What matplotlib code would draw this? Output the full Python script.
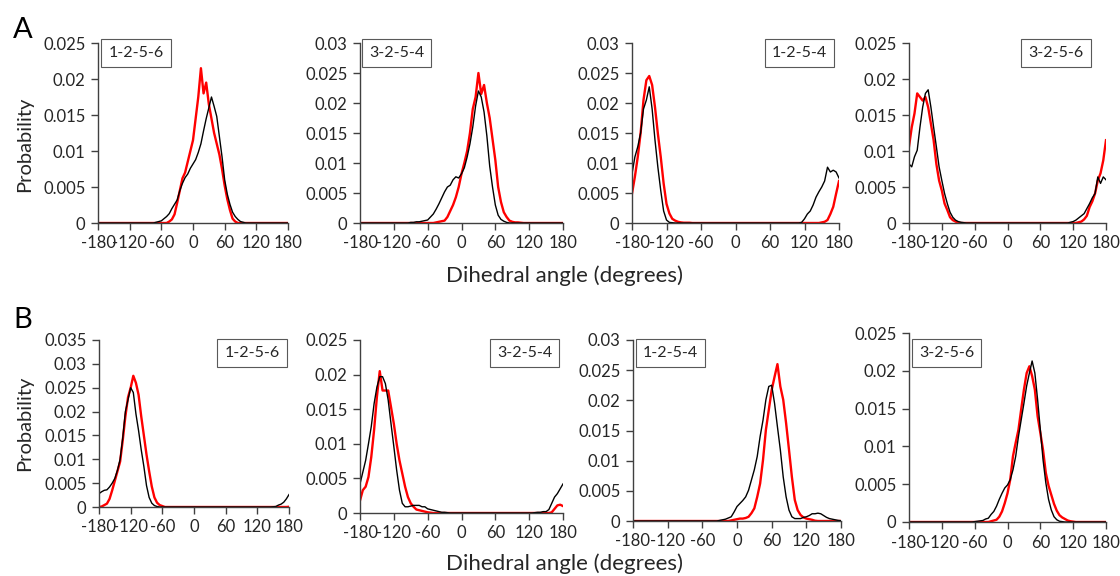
import numpy as np
import matplotlib
matplotlib.use("Agg")
import matplotlib.pyplot as plt
from matplotlib.ticker import FuncFormatter

plt.rcParams['font.family'] = ['Lato', 'DejaVu Sans']
plt.rcParams['axes.unicode_minus'] = False

# dihedral angle grid (degrees), 5 degree bins
angles = np.arange(-180, 181, 5)

# probabilities in units of 1e-3, one value per angle in the grid
# row A
a1_black = [0, 0, 0, 0, 0, 0, 0, 0, 0, 0,
            0, 0, 0, 0, 0, 0, 0, 0, 0, 0,
            0, 0, 0.1, 0.2, 0.3, 0.6, 0.9, 1.3, 2.0, 2.6,
            3.2, 4.5, 5.5, 6.3, 6.8, 7.6, 8.2, 8.8, 9.8, 11.0,
            12.8, 14.5, 16.0, 17.5, 16.2, 14.8, 12.0, 9.2, 6.0, 4.0,
            2.6, 1.5, 0.9, 0.5, 0.2, 0.1, 0, 0, 0, 0,
            0, 0, 0, 0, 0, 0, 0, 0, 0, 0,
            0, 0, 0]
a1_red = [0, 0, 0, 0, 0, 0, 0, 0, 0, 0,
          0, 0, 0, 0, 0, 0, 0, 0, 0, 0,
          0, 0, 0, 0, 0, 0, 0, 0.2, 0.5, 1.2,
          2.8, 4.5, 6.2, 7.0, 8.5, 10.0, 11.5, 14.5, 17.5, 21.5,
          18.0, 19.5, 16.5, 14.5, 12.5, 11.0, 9.5, 7.5, 5.2, 3.3,
          1.8, 0.6, 0.2, 0, 0, 0, 0, 0, 0, 0,
          0, 0, 0, 0, 0, 0, 0, 0, 0, 0,
          0, 0, 0]
a2_black = [0, 0, 0, 0, 0, 0, 0, 0, 0, 0,
            0, 0, 0, 0, 0, 0, 0, 0, 0.1, 0.1,
            0.2, 0.2, 0.3, 0.4, 0.5, 1.0, 1.5, 2.3, 3.2, 4.2,
            5.2, 6.0, 6.3, 7.2, 7.7, 7.5, 8.2, 9.2, 11.0, 13.2,
            16.0, 19.5, 22.0, 21.0, 18.5, 14.5, 9.5, 6.0, 3.0, 1.3,
            0.6, 0.3, 0.1, 0, 0, 0, 0, 0, 0, 0,
            0, 0, 0, 0, 0, 0, 0, 0, 0, 0,
            0, 0, 0]
a2_red = [0, 0, 0, 0, 0, 0, 0, 0, 0, 0,
          0, 0, 0, 0, 0, 0, 0, 0, 0, 0,
          0, 0, 0, 0, 0, 0, 0, 0.1, 0.2, 0.3,
          0.4, 1.0, 2.0, 3.0, 4.3, 6.0, 8.2, 10.0, 12.0, 15.0,
          19.0, 21.0, 25.0, 21.5, 23.0, 20.0, 17.5, 14.0, 10.5, 6.0,
          3.5, 1.8, 1.0, 0.4, 0.2, 0.1, 0.1, 0.05, 0, 0,
          0, 0, 0, 0, 0, 0, 0, 0, 0, 0,
          0, 0, 0]
a3_black = [8.2, 11.0, 12.7, 15.0, 19.0, 20.5, 22.7, 19.0, 13.8, 9.3,
            5.4, 2.0, 0.5, 0.1, 0.05, 0, 0, 0, 0, 0,
            0, 0, 0, 0, 0, 0, 0, 0, 0, 0,
            0, 0, 0, 0, 0, 0, 0, 0, 0, 0,
            0, 0, 0, 0, 0, 0, 0, 0, 0, 0,
            0, 0, 0, 0, 0, 0, 0, 0, 0, 0.1,
            0.7, 1.5, 2.0, 3.0, 4.3, 5.2, 6.0, 7.0, 9.3, 8.5,
            8.8, 8.5, 7.5]
a3_red = [4.9, 7.7, 11.0, 15.0, 20.5, 23.8, 24.5, 23.0, 19.3, 14.9,
          11.0, 6.6, 3.2, 1.6, 0.7, 0.4, 0.2, 0.1, 0.05, 0.05,
          0.05, 0, 0, 0, 0, 0, 0, 0, 0, 0,
          0, 0, 0, 0, 0, 0, 0, 0, 0, 0,
          0, 0, 0, 0, 0, 0, 0, 0, 0, 0,
          0, 0, 0, 0, 0, 0, 0, 0, 0, 0,
          0, 0, 0, 0, 0, 0, 0.1, 0.2, 0.5, 1.5,
          2.7, 4.9, 7.0]
a4_black = [8.2, 7.8, 9.2, 10.1, 13.3, 16.1, 18.0, 18.5, 16.1, 13.3,
            10.6, 7.8, 5.9, 4.1, 2.7, 1.5, 0.8, 0.4, 0.2, 0.1,
            0.05, 0, 0, 0, 0, 0, 0, 0, 0, 0,
            0, 0, 0, 0, 0, 0, 0, 0, 0, 0,
            0, 0, 0, 0, 0, 0, 0, 0, 0, 0,
            0, 0, 0, 0, 0, 0, 0, 0, 0, 0.1,
            0.2, 0.4, 0.7, 1.0, 1.3, 2.0, 2.7, 3.5, 4.1, 6.4,
            5.5, 6.4, 6.0]
a4_red = [10.6, 13.3, 15.2, 18.0, 17.5, 17.0, 17.5, 16.1, 13.8, 11.5,
          8.2, 5.9, 4.5, 2.7, 1.8, 0.8, 0.4, 0.2, 0.05, 0,
          0, 0, 0, 0, 0, 0, 0, 0, 0, 0,
          0, 0, 0, 0, 0, 0, 0, 0, 0, 0,
          0, 0, 0, 0, 0, 0, 0, 0, 0, 0,
          0, 0, 0, 0, 0, 0, 0, 0, 0, 0,
          0, 0, 0.1, 0.2, 0.5, 1.0, 2.2, 3.0, 4.1, 5.9,
          6.9, 8.7, 11.5]
# row B
b1_black = [2.8, 3.2, 3.5, 3.6, 4.2, 5.0, 6.0, 7.7, 10.0, 14.5,
            20.0, 22.5, 25.0, 24.0, 19.5, 16.0, 12.0, 8.5, 4.5, 2.0,
            0.8, 0.3, 0.1, 0, 0, 0, 0, 0, 0, 0,
            0, 0, 0, 0, 0, 0, 0, 0, 0, 0,
            0, 0, 0, 0, 0, 0, 0, 0, 0, 0,
            0, 0, 0, 0, 0, 0, 0, 0, 0, 0,
            0, 0, 0, 0, 0, 0, 0.05, 0.1, 0.4, 0.6,
            1.0, 1.7, 2.6]
b1_red = [0, 0.1, 0.4, 0.7, 1.7, 3.5, 5.5, 7.5, 9.5, 14.0,
          19.0, 23.0, 25.0, 27.5, 26.0, 23.5, 19.0, 15.0, 11.0, 7.5,
          4.3, 2.0, 0.9, 0.4, 0.2, 0, 0, 0, 0, 0,
          0, 0, 0, 0, 0, 0, 0, 0, 0, 0,
          0, 0, 0, 0, 0, 0, 0, 0, 0, 0,
          0, 0, 0, 0, 0, 0, 0, 0, 0, 0,
          0, 0, 0, 0, 0, 0, 0, 0, 0, 0,
          0, 0, 0.05]
b2_black = [4.2, 5.9, 7.6, 10.0, 12.5, 15.8, 18.2, 19.7, 19.7, 18.7,
            16.3, 12.9, 9.6, 6.2, 3.3, 1.4, 0.9, 0.9, 1.0, 1.1,
            1.1, 1.1, 0.9, 0.9, 0.6, 0.5, 0.4, 0.3, 0.2, 0.1,
            0.1, 0.05, 0, 0, 0, 0, 0, 0, 0, 0,
            0, 0, 0, 0, 0, 0, 0, 0, 0, 0,
            0, 0, 0, 0, 0, 0, 0, 0, 0, 0,
            0, 0, 0.05, 0.1, 0.1, 0.2, 0.2, 0.5, 1.4, 2.3,
            2.8, 3.5, 4.2]
b2_red = [1.8, 3.3, 3.8, 5.2, 8.1, 12.0, 16.8, 20.5, 17.7, 17.7,
          17.7, 15.3, 12.9, 10.0, 7.6, 5.7, 3.8, 2.3, 1.4, 0.9,
          0.5, 0.4, 0.3, 0.2, 0.1, 0.05, 0, 0, 0, 0,
          0, 0, 0, 0, 0, 0, 0, 0, 0, 0,
          0, 0, 0, 0, 0, 0, 0, 0, 0, 0,
          0, 0, 0, 0, 0, 0, 0, 0, 0, 0,
          0, 0, 0, 0, 0, 0, 0, 0, 0.1, 0.6,
          1.1, 1.2, 1.0]
b3_black = [0, 0, 0, 0, 0, 0, 0, 0, 0, 0,
            0, 0, 0, 0, 0, 0, 0, 0, 0, 0,
            0, 0, 0, 0, 0, 0, 0, 0, 0, 0,
            0.1, 0.2, 0.3, 0.5, 0.7, 1.5, 2.4, 2.9, 3.4, 4.0,
            5.1, 6.8, 8.5, 10.7, 14.0, 16.7, 20.1, 22.3, 22.5, 19.5,
            15.6, 11.8, 7.3, 4.0, 1.8, 0.7, 0.4, 0.4, 0.4, 0.6,
            0.7, 0.9, 1.2, 1.2, 1.3, 1.2, 0.9, 0.6, 0.4, 0.3,
            0.2, 0.1, 0.05]
b3_red = [0, 0, 0, 0, 0, 0, 0, 0, 0, 0,
          0, 0, 0, 0, 0, 0, 0, 0, 0, 0,
          0, 0, 0, 0, 0, 0, 0, 0, 0, 0,
          0, 0, 0, 0, 0.1, 0.2, 0.3, 0.4, 0.4, 0.5,
          0.7, 1.3, 2.1, 4.0, 6.2, 10.1, 15.1, 18.4, 21.7, 23.9,
          26.0, 22.3, 20.1, 16.2, 11.8, 7.3, 3.5, 1.8, 1.0, 0.6,
          0.4, 0.3, 0.2, 0.05, 0, 0, 0, 0, 0, 0,
          0, 0, 0]
b4_black = [0, 0, 0, 0, 0, 0, 0, 0, 0, 0,
            0, 0, 0, 0, 0, 0, 0, 0, 0, 0,
            0, 0, 0, 0, 0.05, 0.1, 0.15, 0.2, 0.4, 0.5,
            1.0, 1.4, 2.1, 3.0, 3.8, 4.5, 4.9, 5.6, 6.9, 8.7,
            11.3, 13.5, 15.7, 18.0, 19.7, 21.3, 19.7, 16.2, 12.2, 8.2,
            5.2, 3.0, 1.6, 0.7, 0.3, 0.1, 0.05, 0, 0, 0,
            0, 0, 0, 0, 0, 0, 0, 0, 0, 0,
            0, 0, 0]
b4_red = [0, 0, 0, 0, 0, 0, 0, 0, 0, 0,
          0, 0, 0, 0, 0, 0, 0, 0, 0, 0,
          0, 0, 0, 0, 0, 0, 0, 0, 0, 0,
          0.1, 0.2, 0.3, 0.7, 1.4, 2.5, 3.8, 5.6, 8.7, 10.5,
          12.2, 14.9, 17.5, 19.7, 20.6, 19.3, 17.5, 14.0, 11.8, 9.5,
          6.5, 4.8, 3.6, 2.4, 1.5, 0.9, 0.6, 0.4, 0.2, 0.1,
          0.05, 0, 0, 0, 0, 0, 0, 0, 0, 0,
          0, 0, 0]

labels = ['1-2-5-6', '3-2-5-4', '1-2-5-4', '3-2-5-6',
          '1-2-5-6', '3-2-5-4', '1-2-5-4', '3-2-5-6']
black_series = [a1_black, a2_black, a3_black, a4_black,
                b1_black, b2_black, b3_black, b4_black]
red_series = [a1_red, a2_red, a3_red, a4_red,
              b1_red, b2_red, b3_red, b4_red]
ymax = [0.025, 0.03, 0.03, 0.025, 0.035, 0.025, 0.03, 0.025]

# axes boxes in pixels: left, top, right, bottom
boxes = [(98, 43, 288, 223), (360, 43, 563, 223), (632, 43, 839, 223), (909, 43, 1106, 223),
         (99, 340, 289, 507), (360, 340, 563, 513), (633, 340, 841, 521), (909, 333, 1106, 522)]
# label box centre in axes fraction
label_pos = [(0.2, 0.944), (0.18, 0.944), (0.81, 0.944), (0.746, 0.944),
             (0.805, 0.922), (0.81, 0.925), (0.18, 0.928), (0.19, 0.894)]

W, H = 1120, 576
fig = plt.figure(figsize=(W / 100, H / 100), dpi=100)
axc = '#404040'

for i in range(8):
    l, t, r, b = boxes[i]
    ax = fig.add_axes([l / W, (H - b) / H, (r - l) / W, (b - t) / H])
    ax.plot(angles, np.array(red_series[i]) / 1000, color='#ff0000', lw=1.7)
    ax.plot(angles, np.array(black_series[i]) / 1000, color='black', lw=1.0)
    ax.set_xlim(-180, 180)
    ax.set_ylim(0, ymax[i])
    ax.set_xticks(np.arange(-180, 181, 60))
    ax.set_yticks(np.round(np.arange(0, ymax[i] + 1e-9, 0.005), 3))
    ax.yaxis.set_major_formatter(FuncFormatter(lambda v, p: '%g' % v))
    for s in ['top', 'right']:
        ax.spines[s].set_visible(False)
    for s in ['left', 'bottom']:
        ax.spines[s].set_color(axc)
        ax.spines[s].set_linewidth(1.0)
    ax.tick_params(direction='out', length=5, width=1.0, color=axc,
                   labelsize=12, labelcolor='#262626', pad=4)
    ax.text(label_pos[i][0], label_pos[i][1], labels[i], transform=ax.transAxes,
            ha='center', va='center', fontsize=11.5, color='#262626',
            bbox=dict(boxstyle='square,pad=0.45', fc='white', ec='#595959', lw=0.8),
            clip_on=False)

fig.text(23 / W, 1 - 30 / H, 'A', fontsize=21, ha='center', va='center')
fig.text(23 / W, 1 - 320 / H, 'B', fontsize=21, ha='center', va='center')
fig.text(25 / W, 1 - 144 / H, 'Probability', fontsize=14.5, rotation=90,
         ha='center', va='center', color='#262626')
fig.text(25 / W, 1 - 423 / H, 'Probability', fontsize=14.5, rotation=90,
         ha='center', va='center', color='#262626')
fig.text(565 / W, 1 - 276 / H, 'Dihedral angle (degrees)', fontsize=16,
         ha='center', va='center', color='#262626')
fig.text(565 / W, 1 - 564 / H, 'Dihedral angle (degrees)', fontsize=16,
         ha='center', va='center', color='#262626')

fig.savefig('out.png', dpi=100)
